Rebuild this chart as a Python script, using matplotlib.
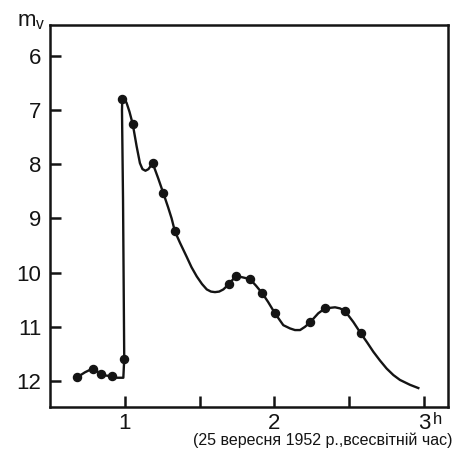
import numpy as np
import matplotlib
matplotlib.use('Agg')
import matplotlib.pyplot as plt

plt.rcParams['font.family'] = ['Liberation Sans', 'DejaVu Sans']
plt.rcParams['mathtext.fontset'] = 'custom'
plt.rcParams['mathtext.rm'] = 'Liberation Sans'

#точки спостережень (години всесвітнього часу, зоряна величина)
obs_t = [0.681, 0.784, 0.841, 0.911, 0.995, 0.982, 1.052, 1.185, 1.256, 1.334,
         1.696, 1.742, 1.836, 1.918, 2.003, 2.237, 2.338, 2.472, 2.577]
obs_m = [11.93, 11.77, 11.87, 11.91, 11.59, 6.79, 7.26, 7.98, 8.53, 9.24,
         10.21, 10.06, 10.12, 10.38, 10.75, 10.92, 10.66, 10.71, 11.12]

#крива блиску
curve_t = [0.681, 0.732, 0.784, 0.813, 0.841, 0.873, 0.911, 0.946, 0.989, 0.995,
           0.987, 0.980, 0.982, 0.993, 1.011, 1.030, 1.052, 1.078, 1.100, 1.117,
           1.137, 1.157, 1.185, 1.221, 1.256, 1.288, 1.312, 1.334, 1.368, 1.413,
           1.445, 1.480, 1.515, 1.547, 1.575, 1.602, 1.630, 1.658, 1.696, 1.742,
           1.791, 1.836, 1.876, 1.918, 1.957, 2.003, 2.059, 2.104, 2.137, 2.171,
           2.204, 2.237, 2.293, 2.338, 2.405, 2.438, 2.472, 2.527, 2.577, 2.620,
           2.661, 2.705, 2.750, 2.795, 2.839, 2.906, 2.962]
curve_m = [11.93, 11.84, 11.77, 11.82, 11.87, 11.90, 11.91, 11.94, 11.94, 11.59,
           8.66, 7.00, 6.79, 6.77, 6.87, 7.03, 7.26, 7.67, 7.98, 8.09,
           8.12, 8.09, 7.98, 8.25, 8.53, 8.79, 9.00, 9.24, 9.45, 9.71,
           9.90, 10.07, 10.21, 10.31, 10.35, 10.36, 10.35, 10.31, 10.21, 10.06,
           10.09, 10.12, 10.24, 10.38, 10.54, 10.75, 10.97, 11.03, 11.06, 11.06,
           11.00, 10.92, 10.75, 10.66, 10.64, 10.66, 10.71, 10.91, 11.12, 11.29,
           11.46, 11.62, 11.77, 11.89, 11.98, 12.07, 12.13]

x_ticks = [1, 1.5, 2, 2.5, 3]
x_labels = ['1', '', '2', '', '3']
y_ticks = [6, 7, 8, 9, 10, 11, 12]

ink = '#141414'
x_min, x_max = 0.498, 3.16

fig = plt.figure(figsize=(4.58, 4.54), dpi=100)
ax = fig.add_axes([0.109, 0.1035, 0.869, 0.8415])

ax.plot(curve_t, curve_m, color=ink, lw=1.7, solid_joinstyle='round')
ax.plot(obs_t, obs_m, 'o', color=ink, ms=5.8)

ax.set_xlim(x_min, x_max)
ax.set_ylim(12.48, 5.43)

ax.set_xticks(x_ticks)
ax.set_xticklabels(x_labels)
ax.set_yticks(y_ticks)
ax.tick_params(direction='in', length=8, width=1.8, colors=ink, labelsize=16)
ax.tick_params(axis='x', pad=4)
ax.tick_params(axis='y', pad=6)
for s in ax.spines.values():
    s.set_linewidth(1.8)
    s.set_color(ink)

#верхній індекс години біля мітки 3
ax.text((3 - x_min) / (x_max - x_min) + 0.022, -0.052, 'h', transform=ax.transAxes,
        fontsize=12, color=ink, ha='left', va='bottom')

ax.text(-0.083, 0.995, 'm$_\\mathregular{v}$', transform=ax.transAxes,
        fontsize=16, color=ink, ha='left', va='baseline')

fig.text(0.987, 0.02, '(25 вересня 1952 р.,всесвітній час)', fontsize=11.5,
         color=ink, ha='right', va='baseline',
         family=['Liberation Sans Narrow', 'Liberation Sans', 'DejaVu Sans'])

fig.savefig('out.png', dpi=100)
